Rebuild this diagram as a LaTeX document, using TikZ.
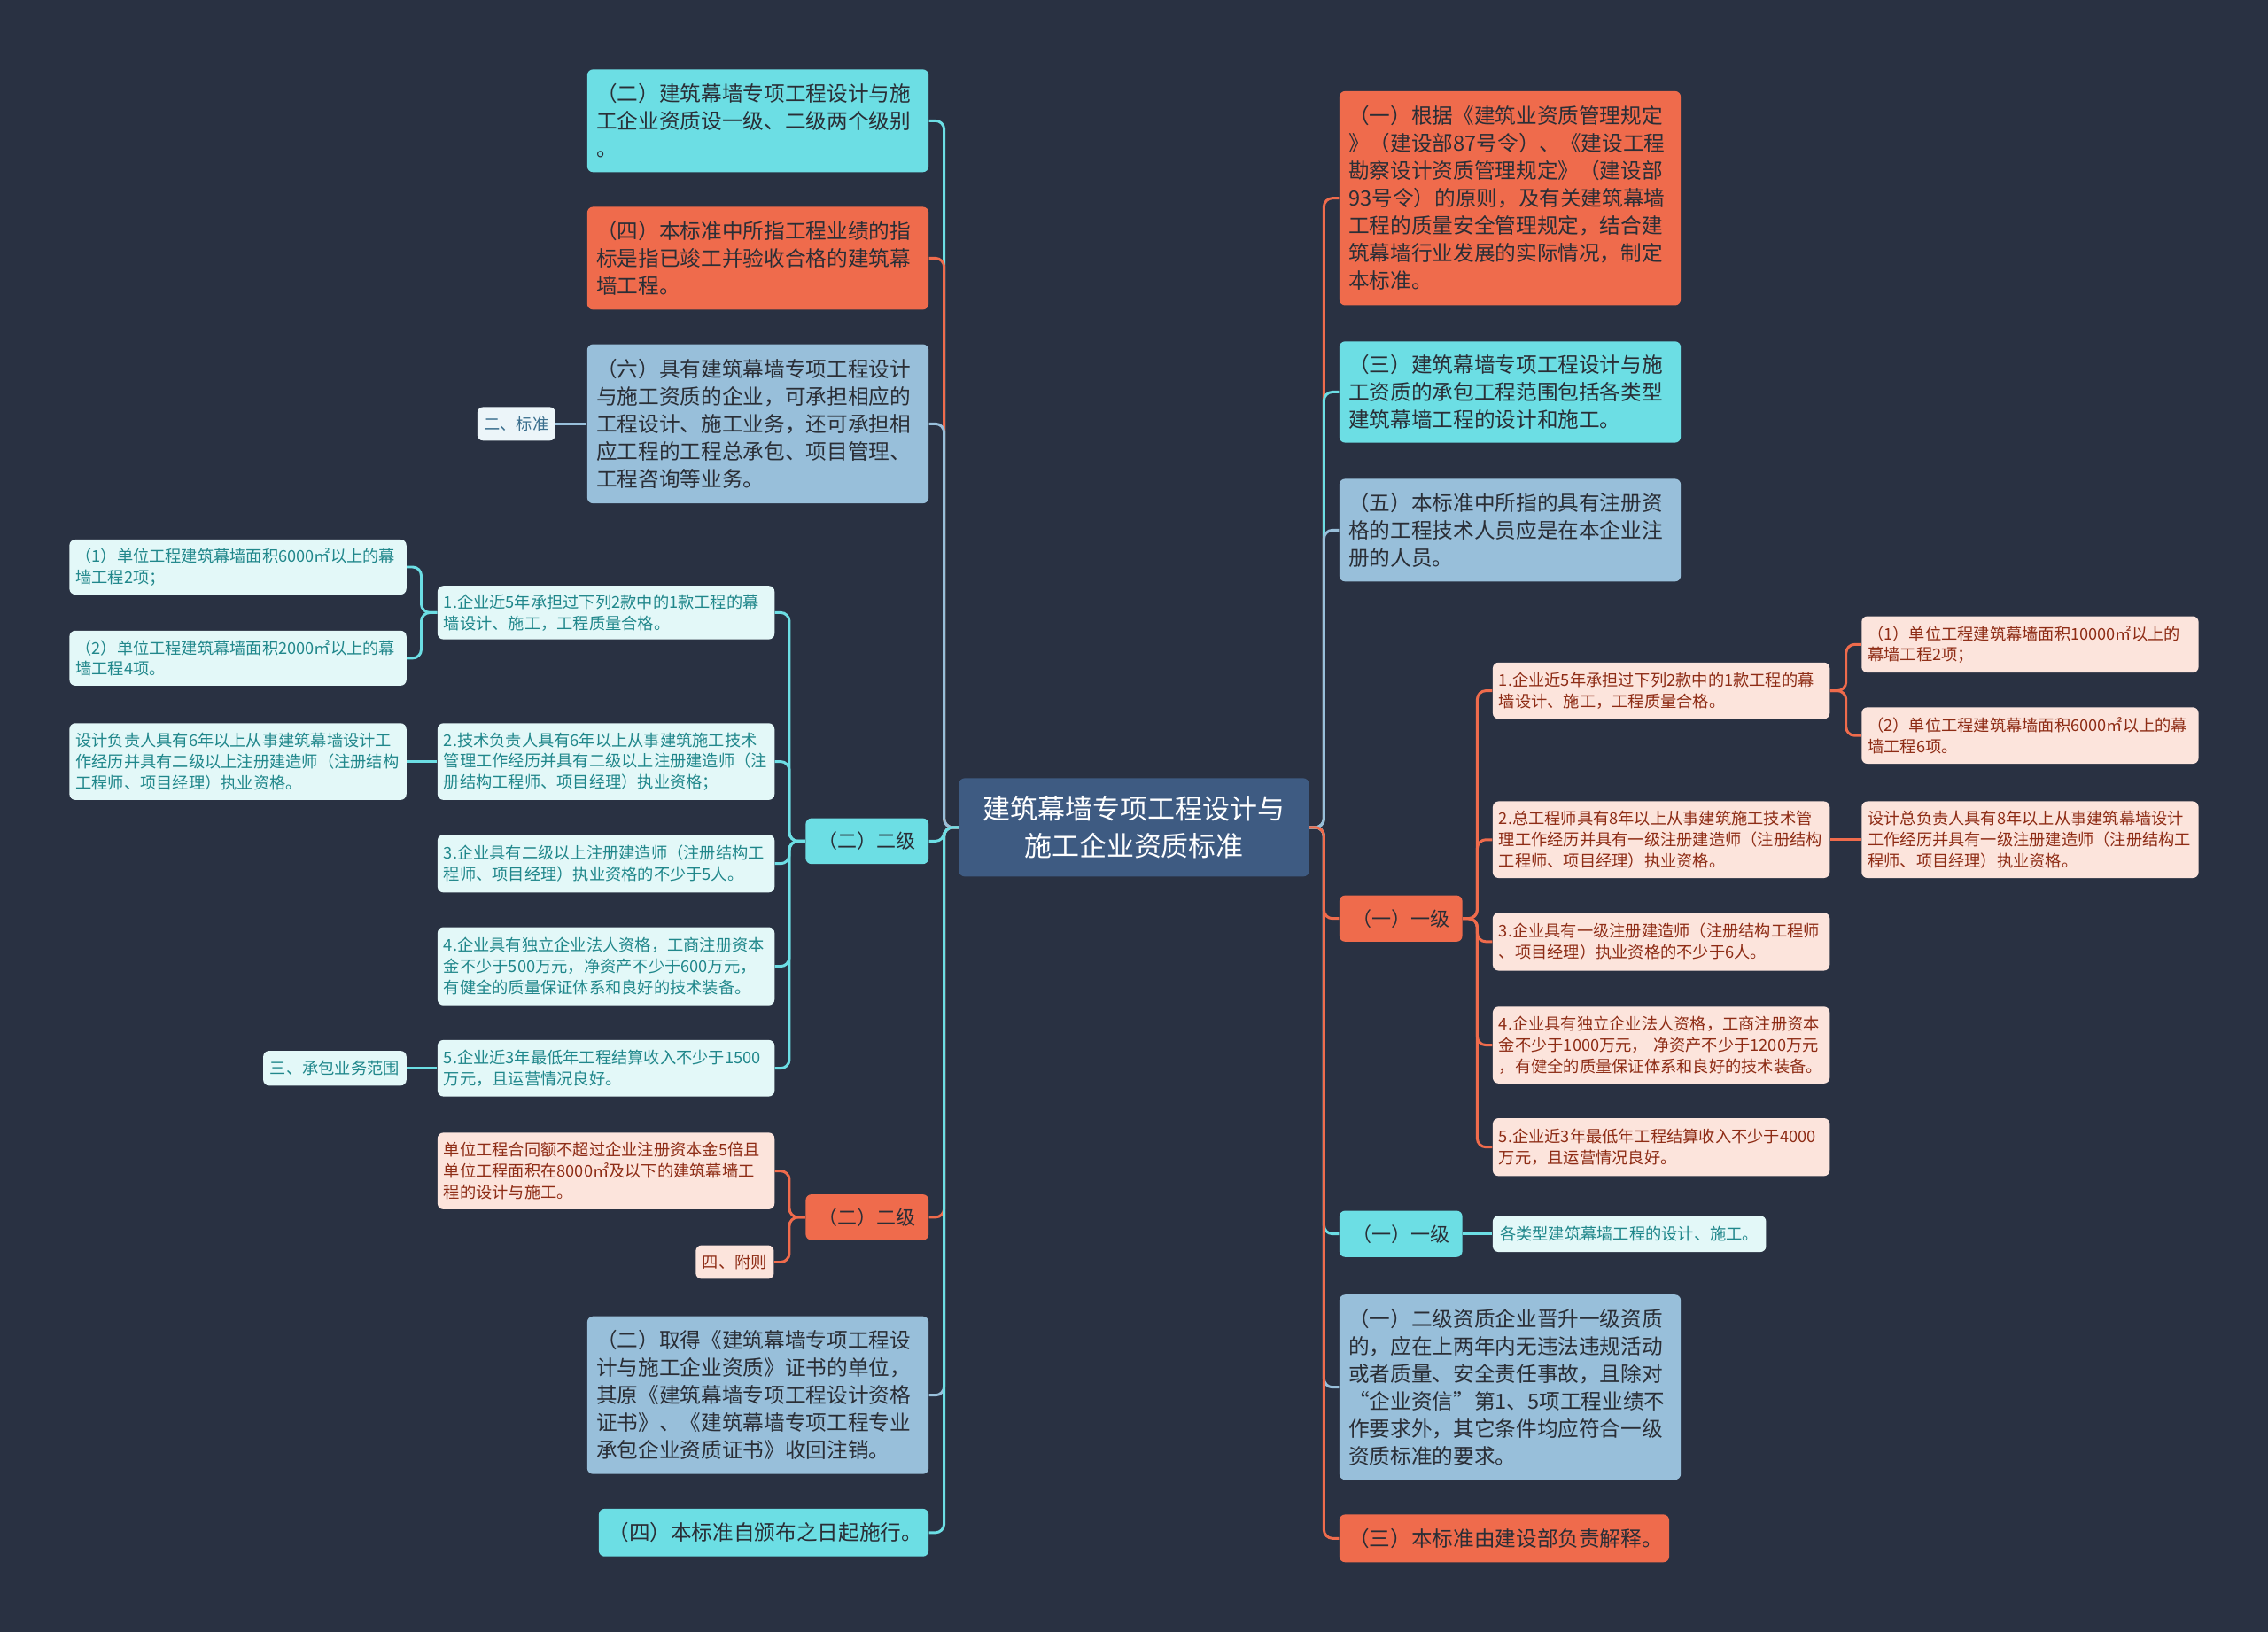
\documentclass[tikz,border=0pt]{standalone}
\usepackage{fontspec}
\setmainfont{Noto Sans CJK SC}
\definecolor{bgdark}{HTML}{293142}
\definecolor{rootfill}{HTML}{3E5B82}
\definecolor{cyanbox}{HTML}{6CDEE4}
\definecolor{orangebox}{HTML}{EF6B4C}
\definecolor{bluebox}{HTML}{98BFDA}
\definecolor{darktext}{HTML}{2A2E36}
\definecolor{tealfill}{HTML}{E3F8F8}
\definecolor{tealtext}{HTML}{20878B}
\definecolor{pinkfill}{HTML}{FCE4DC}
\definecolor{pinktext}{HTML}{8E2C15}
\definecolor{tagfill}{HTML}{ECF5F9}
\definecolor{tagtext}{HTML}{3B6F8E}
\newcommand{\rootfont}{\fontsize{13.5pt}{18.4pt}\selectfont}
\newcommand{\boxfont}{\fontsize{10.3pt}{13.5pt}\selectfont}
\newcommand{\levelfont}{\fontsize{9.6pt}{12pt}\selectfont}
\newcommand{\leaffont}{\fontsize{7.95pt}{10.3pt}\selectfont}
\begin{document}
\begin{tikzpicture}[x=0.25mm,y=-0.25mm]
      \tikzstyle{box}=[rectangle,rounded corners=1mm,inner ysep=0pt,anchor=center]
      \tikzstyle{root node}=[box,fill=rootfill,text=white,font=\rootfont,align=center,text width=56mm,minimum width=60.5mm,minimum height=17mm]
      \tikzstyle{big node}=[box,inner xsep=1.6mm,text width=55.8mm,align=left,font=\boxfont,text=darktext]
      \tikzstyle{cyan node}=[big node,fill=cyanbox]
      \tikzstyle{orange node}=[big node,fill=orangebox]
      \tikzstyle{blue node}=[big node,fill=bluebox]
      \tikzstyle{level node}=[box,inner xsep=0pt,align=center,font=\levelfont,text=darktext,minimum width=21.25mm,minimum height=7.9mm]
      \tikzstyle{leaf node}=[box,inner xsep=1.07mm,text width=56.1mm,align=left,font=\leaffont]
      \tikzstyle{teal leaf}=[leaf node,fill=tealfill,text=tealtext]
      \tikzstyle{pink leaf}=[leaf node,fill=pinkfill,text=pinktext]
      \tikzstyle{tag node}=[box,inner xsep=0pt,align=center,font=\leaffont,minimum height=5.8mm]
      \tikzstyle{edge}=[line width=1.3pt,rounded corners=1.5mm]
      \tikzstyle{cyan edge}=[edge,draw=cyanbox]
      \tikzstyle{orange edge}=[edge,draw=orangebox]
      \tikzstyle{blue edge}=[edge,draw=bluebox]

      \fill[bgdark] (0,0) rectangle (1568,1128);

      \node(root)[root node] at (784,572) {建筑幕墙专项工程设计与\\施工企业资质标准};

      % left side
      \node(l1)[cyan node,minimum height=17.75mm] at (524,83.5) {（二）建筑幕墙专项工程设计与施\\工企业资质设一级、二级两个级别\\。};
      \node(l2)[orange node,minimum height=17.75mm] at (524,178.5) {（四）本标准中所指工程业绩的指\\标是指已竣工并验收合格的建筑幕\\墙工程。};
      \node(l3)[blue node,minimum height=27.5mm] at (524,293) {（六）具有建筑幕墙专项工程设计\\与施工资质的企业，可承担相应的\\工程设计、施工业务，还可承担相\\应工程的工程总承包、项目管理、\\工程咨询等业务。};
      \node(l3a)[tag node,fill=tagfill,text=tagtext,minimum width=13.5mm] at (357,293) {二、标准};
      \node(l4)[level node,fill=cyanbox] at (599.5,581.5) {（二）二级};
      \node(l4a)[teal leaf,minimum height=9.25mm] at (419,423.5) {1.企业近5年承担过下列2款中的1款工程的幕\\墙设计、施工，工程质量合格。};
      \node(l4a1)[teal leaf,minimum height=9.5mm] at (164.5,392) {（1）单位工程建筑幕墙面积6000㎡以上的幕\\墙工程2项；};
      \node(l4a2)[teal leaf,minimum height=9.5mm] at (164.5,455) {（2）单位工程建筑幕墙面积2000㎡以上的幕\\墙工程4项。};
      \node(l4b)[teal leaf,minimum height=13.25mm] at (419,526.5) {2.技术负责人具有6年以上从事建筑施工技术\\管理工作经历并具有二级以上注册建造师（注\\册结构工程师、项目经理）执业资格；};
      \node(l4b1)[teal leaf,minimum height=13.25mm] at (164.5,526.5) {设计负责人具有6年以上从事建筑幕墙设计工\\作经历并具有二级以上注册建造师（注册结构\\工程师、项目经理）执业资格。};
      \node(l4c)[teal leaf,minimum height=10mm] at (419,597) {3.企业具有二级以上注册建造师（注册结构工\\程师、项目经理）执业资格的不少于5人。};
      \node(l4d)[teal leaf,minimum height=13.5mm] at (419,668) {4.企业具有独立企业法人资格，工商注册资本\\金不少于500万元，净资产不少于600万元，\\有健全的质量保证体系和良好的技术装备。};
      \node(l4e)[teal leaf,minimum height=9.75mm] at (419,738.5) {5.企业近3年最低年工程结算收入不少于1500\\万元，且运营情况良好。};
      \node(l4e1)[tag node,fill=tealfill,text=tealtext,minimum width=24.75mm,minimum height=6mm] at (231.5,738.5) {三、承包业务范围};
      \node(l5)[level node,fill=orangebox] at (599.5,841.5) {（二）二级};
      \node(l5a)[pink leaf,minimum height=13.25mm] at (419,809.5) {单位工程合同额不超过企业注册资本金5倍且\\单位工程面积在8000㎡及以下的建筑幕墙工\\程的设计与施工。};
      \node(l5b)[tag node,fill=pinkfill,text=pinktext,minimum width=13.5mm] at (508,872.5) {四、附则};
      \node(l6)[blue node,minimum height=27.25mm] at (524,964.5) {（二）取得《建筑幕墙专项工程设\\计与施工企业资质》证书的单位，\\其原《建筑幕墙专项工程设计资格\\证书》、《建筑幕墙专项工程专业\\承包企业资质证书》收回注销。};
      \node(l7)[cyan node,align=center,text width=53.8mm,minimum height=8.25mm] at (528,1059.5) {（四）本标准自颁布之日起施行。};

      % right side
      \node(r1)[orange node,minimum height=37mm] at (1044,137) {（一）根据《建筑业资质管理规定\\》（建设部87号令）、《建设工程\\勘察设计资质管理规定》（建设部\\93号令）的原则，及有关建筑幕墙\\工程的质量安全管理规定，结合建\\筑幕墙行业发展的实际情况，制定\\本标准。};
      \node(r2)[cyan node,minimum height=17.5mm] at (1044,271) {（三）建筑幕墙专项工程设计与施\\工资质的承包工程范围包括各类型\\建筑幕墙工程的设计和施工。};
      \node(r3)[blue node,minimum height=17.75mm] at (1044,366.5) {（五）本标准中所指的具有注册资\\格的工程技术人员应是在本企业注\\册的人员。};
      \node(r4)[level node,fill=orangebox,minimum height=8mm] at (968.5,635) {（一）一级};
      \node(r4a)[pink leaf,minimum height=9.75mm] at (1148.5,477.5) {1.企业近5年承担过下列2款中的1款工程的幕\\墙设计、施工，工程质量合格。};
      \node(r4a1)[pink leaf,minimum height=9.75mm] at (1403.5,445.5) {（1）单位工程建筑幕墙面积10000㎡以上的\\幕墙工程2项；};
      \node(r4a2)[pink leaf,minimum height=9.75mm] at (1403.5,508.5) {（2）单位工程建筑幕墙面积6000㎡以上的幕\\墙工程6项。};
      \node(r4b)[pink leaf,minimum height=13.25mm] at (1148.5,580.5) {2.总工程师具有8年以上从事建筑施工技术管\\理工作经历并具有一级注册建造师（注册结构\\工程师、项目经理）执业资格。};
      \node(r4b1)[pink leaf,minimum height=13.25mm] at (1403.5,580.5) {设计总负责人具有8年以上从事建筑幕墙设计\\工作经历并具有一级注册建造师（注册结构工\\程师、项目经理）执业资格。};
      \node(r4c)[pink leaf,minimum height=10mm] at (1148.5,651) {3.企业具有一级注册建造师（注册结构工程师\\、项目经理）执业资格的不少于6人。};
      \node(r4d)[pink leaf,minimum height=13.25mm] at (1148.5,722.5) {4.企业具有独立企业法人资格，工商注册资本\\金不少于1000万元， 净资产不少于1200万元\\，有健全的质量保证体系和良好的技术装备。};
      \node(r4e)[pink leaf,minimum height=10mm] at (1148.5,793) {5.企业近3年最低年工程结算收入不少于4000\\万元，且运营情况良好。};
      \node(r5)[level node,fill=cyanbox,minimum height=8mm] at (968.5,853) {（一）一级};
      \node(r5a)[tag node,fill=tealfill,text=tealtext,minimum width=47.25mm,minimum height=6.25mm] at (1126.5,853) {各类型建筑幕墙工程的设计、施工。};
      \node(r6)[blue node,minimum height=32mm] at (1044,959) {（一）二级资质企业晋升一级资质\\的，应在上两年内无违法违规活动\\或者质量、安全责任事故，且除对\\“企业资信”第1、5项工程业绩不\\作要求外，其它条件均应符合一级\\资质标准的要求。};
      \node(r7)[orange node,align=center,text width=53.8mm,minimum height=8.25mm] at (1040,1063.5) {（三）本标准由建设部负责解释。};

      % connectors
      \draw[cyan edge] (root.west) -- ++(-10,0) |- (l1.east);
      \draw[orange edge] (root.west) -- ++(-10,0) |- (l2.east);
      \draw[blue edge] (root.west) -- ++(-10,0) |- (l3.east);
      \draw[cyan edge] (root.west) -- ++(-10,0) |- (l4.east);
      \draw[orange edge] (root.west) -- ++(-10,0) |- (l5.east);
      \draw[blue edge] (root.west) -- ++(-10,0) |- (l6.east);
      \draw[cyan edge] (root.west) -- ++(-10,0) |- (l7.east);
      \draw[blue edge] (l3.west) -- (l3a.east);
      \draw[cyan edge] (l4.west) -- ++(-11,0) |- (l4a.east);
      \draw[cyan edge] (l4.west) -- ++(-11,0) |- (l4b.east);
      \draw[cyan edge] (l4.west) -- ++(-11,0) |- (l4c.east);
      \draw[cyan edge] (l4.west) -- ++(-11,0) |- (l4d.east);
      \draw[cyan edge] (l4.west) -- ++(-11,0) |- (l4e.east);
      \draw[cyan edge] (l4a.west) -- ++(-11,0) |- (l4a1.east);
      \draw[cyan edge] (l4a.west) -- ++(-11,0) |- (l4a2.east);
      \draw[cyan edge] (l4b.west) -- (l4b1.east);
      \draw[cyan edge] (l4e.west) -- (l4e1.east);
      \draw[orange edge] (l5.west) -- ++(-11,0) |- (l5a.east);
      \draw[orange edge] (l5.west) -- ++(-11,0) |- (l5b.east);

      \draw[orange edge] (root.east) -- ++(10,0) |- (r1.west);
      \draw[cyan edge] (root.east) -- ++(10,0) |- (r2.west);
      \draw[blue edge] (root.east) -- ++(10,0) |- (r3.west);
      \draw[orange edge] (root.east) -- ++(10,0) |- (r4.west);
      \draw[cyan edge] (root.east) -- ++(10,0) |- (r5.west);
      \draw[blue edge] (root.east) -- ++(10,0) |- (r6.west);
      \draw[orange edge] (root.east) -- ++(10,0) |- (r7.west);
      \draw[orange edge] (r4.east) -- ++(10,0) |- (r4a.west);
      \draw[orange edge] (r4.east) -- ++(10,0) |- (r4b.west);
      \draw[orange edge] (r4.east) -- ++(10,0) |- (r4c.west);
      \draw[orange edge] (r4.east) -- ++(10,0) |- (r4d.west);
      \draw[orange edge] (r4.east) -- ++(10,0) |- (r4e.west);
      \draw[orange edge] (r4a.east) -- ++(11,0) |- (r4a1.west);
      \draw[orange edge] (r4a.east) -- ++(11,0) |- (r4a2.west);
      \draw[orange edge] (r4b.east) -- (r4b1.west);
      \draw[cyan edge] (r5.east) -- (r5a.west);
    \end{tikzpicture}
\end{document}
